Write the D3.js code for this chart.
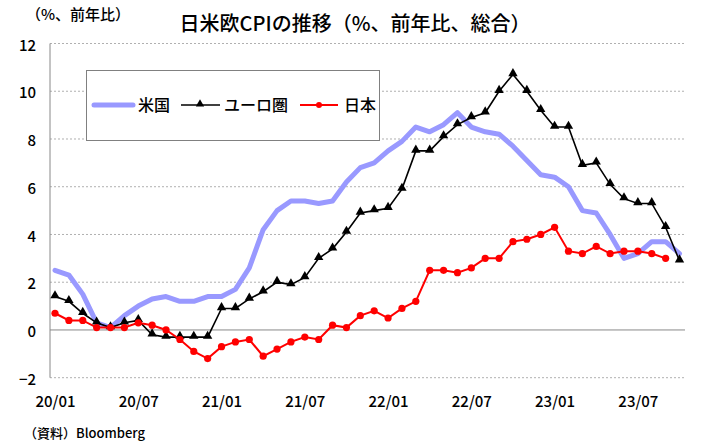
<!DOCTYPE html>
<html><head><meta charset="utf-8">
<script src="https://cdn.jsdelivr.net/npm/d3@7"></script>
<style>
html,body{margin:0;padding:0;background:#fff;}
svg{display:block;font-family:"Noto Sans CJK JP","Noto Sans",sans-serif;}
</style></head>
<body><svg id="c" width="704" height="448"></svg>
<script>
const months = [
 "20/01","20/02","20/03","20/04","20/05","20/06","20/07","20/08","20/09","20/10","20/11","20/12",
 "21/01","21/02","21/03","21/04","21/05","21/06","21/07","21/08","21/09","21/10","21/11","21/12",
 "22/01","22/02","22/03","22/04","22/05","22/06","22/07","22/08","22/09","22/10","22/11","22/12",
 "23/01","23/02","23/03","23/04","23/05","23/06","23/07","23/08","23/09","23/10"];
const usCPI = [2.5,2.3,1.5,0.3,0.1,0.6,1.0,1.3,1.4,1.2,1.2,1.4,
 1.4,1.7,2.6,4.2,5.0,5.4,5.4,5.3,5.4,6.2,6.8,7.0,
 7.5,7.9,8.5,8.3,8.6,9.1,8.5,8.3,8.2,7.7,7.1,6.5,
 6.4,6.0,5.0,4.9,4.0,3.0,3.2,3.7,3.7,3.2];
const euroCPI = [1.4,1.2,0.7,0.3,0.1,0.3,0.4,-0.2,-0.3,-0.3,-0.3,-0.3,
 0.9,0.9,1.3,1.6,2.0,1.9,2.2,3.0,3.4,4.1,4.9,5.0,
 5.1,5.9,7.5,7.5,8.1,8.6,8.9,9.1,10.0,10.7,10.0,9.2,
 8.5,8.5,6.9,7.0,6.1,5.5,5.3,5.3,4.3,2.9];
const japanCPI = [0.7,0.4,0.4,0.1,0.1,0.1,0.3,0.2,0.0,-0.4,-0.9,-1.2,
 -0.7,-0.5,-0.4,-1.1,-0.8,-0.5,-0.3,-0.4,0.2,0.1,0.6,0.8,
 0.5,0.9,1.2,2.5,2.5,2.4,2.6,3.0,3.0,3.7,3.8,4.0,
 4.3,3.3,3.2,3.5,3.2,3.3,3.3,3.2,3.0];
const xTickLabels = ["20/01","20/07","21/01","21/07","22/01","22/07","23/01","23/07"];
const yTicks = [-2,0,2,4,6,8,10,12];
const seriesNames = ["米国","ユーロ圏","日本"];
const titleText = "日米欧CPIの推移（%、前年比、総合）";
const unitText = "（%、前年比）";
const sourceText = "（資料）Bloomberg";

const svg = d3.select("#c");
const L = 50, R = 685, T = 43.5, B = 377.7;
const x = d3.scalePoint().domain(months).range([55, 679.5]).padding(0);
const y = d3.scaleLinear().domain([-2, 12]).range([B, T]);

// gridlines
svg.append("g").selectAll("line").data(yTicks.filter(d => d !== 0)).join("line")
  .attr("x1", L).attr("x2", R).attr("y1", d => y(d)).attr("y2", d => y(d))
  .attr("stroke", "#b0b0b0").attr("stroke-width", 1).attr("stroke-dasharray", "2,2");
// zero line
svg.append("line").attr("x1", L).attr("x2", R).attr("y1", y(0)).attr("y2", y(0))
  .attr("stroke", "#888").attr("stroke-width", 1);
// y axis line
svg.append("line").attr("x1", L).attr("x2", L).attr("y1", T).attr("y2", B)
  .attr("stroke", "#888").attr("stroke-width", 1);

// y tick labels
const yAxis = d3.axisLeft(y).tickValues(yTicks).tickSize(0).tickPadding(0)
  .tickFormat(d => d < 0 ? "−" + Math.abs(d) : d);
const gy = svg.append("g").attr("transform", "translate(36,0)").call(yAxis);
gy.select(".domain").remove();
gy.selectAll("text").attr("font-size", 15).attr("font-weight", 500).attr("fill", "#000")
  .attr("font-family", '"Noto Sans CJK JP",sans-serif').attr("dy", "0.45em");

// x tick labels
const xAxis = d3.axisBottom(x).tickValues(xTickLabels).tickSize(0).tickPadding(0);
const gx = svg.append("g").attr("transform", "translate(0,396)").call(xAxis);
gx.select(".domain").remove();
gx.selectAll("text").attr("font-size", 15).attr("font-weight", 500).attr("fill", "#000")
  .attr("font-family", '"Noto Sans CJK JP",sans-serif').attr("dy", "0.7em");

// lines
const mk = arr => d3.line().x((d, i) => x(months[i])).y(d => y(d))(arr);
svg.append("path").attr("d", mk(usCPI)).attr("fill", "none")
  .attr("stroke", "#9999ff").attr("stroke-width", 5)
  .attr("stroke-linejoin", "round").attr("stroke-linecap", "round");
svg.append("path").attr("d", mk(euroCPI)).attr("fill", "none")
  .attr("stroke", "#000").attr("stroke-width", 1.6);
const tri = d3.symbol().type(d3.symbolTriangle).size(38);
svg.append("g").selectAll("path").data(euroCPI).join("path")
  .attr("d", tri).attr("transform", (d, i) => `translate(${x(months[i])},${y(d) - 1})`)
  .attr("fill", "#000");
svg.append("path").attr("d", mk(japanCPI)).attr("fill", "none")
  .attr("stroke", "#ff0000").attr("stroke-width", 2);
svg.append("g").selectAll("circle").data(japanCPI).join("circle")
  .attr("cx", (d, i) => x(months[i])).attr("cy", d => y(d)).attr("r", 3.6)
  .attr("fill", "#ff0000");

// legend
const lg = svg.append("g");
lg.append("rect").attr("x", 86.5).attr("y", 70.5).attr("width", 293).attr("height", 70)
  .attr("fill", "#fff").attr("stroke", "#808080").attr("stroke-width", 1);
const ly = 105;
lg.append("line").attr("x1", 94).attr("x2", 133).attr("y1", ly).attr("y2", ly)
  .attr("stroke", "#9999ff").attr("stroke-width", 5).attr("stroke-linecap", "round");
lg.append("line").attr("x1", 181).attr("x2", 220).attr("y1", ly).attr("y2", ly)
  .attr("stroke", "#000").attr("stroke-width", 1.6);
lg.append("path").attr("d", d3.symbol().type(d3.symbolTriangle).size(30))
  .attr("transform", `translate(200,${ly - 1})`).attr("fill", "#000");
lg.append("line").attr("x1", 300).attr("x2", 338).attr("y1", ly).attr("y2", ly)
  .attr("stroke", "#ff0000").attr("stroke-width", 2);
lg.append("circle").attr("cx", 319).attr("cy", ly).attr("r", 3).attr("fill", "#ff0000");
const lx = [138, 224, 344];
lg.selectAll("text").data(seriesNames).join("text")
  .attr("x", (d, i) => lx[i]).attr("y", ly).attr("dy", "0.36em")
  .attr("font-size", 16).attr("font-weight", 500).text(d => d);

// title
svg.append("text").attr("x", 355).attr("y", 31).attr("text-anchor", "middle")
  .attr("font-size", 20).attr("font-weight", 500).text(titleText);
svg.append("text").attr("x", 26).attr("y", 20)
  .attr("font-size", 15).attr("font-weight", 500).text(unitText);
svg.append("text").attr("x", 24).attr("y", 438)
  .attr("font-size", 13).attr("font-weight", 500).text(sourceText);
</script></body></html>
